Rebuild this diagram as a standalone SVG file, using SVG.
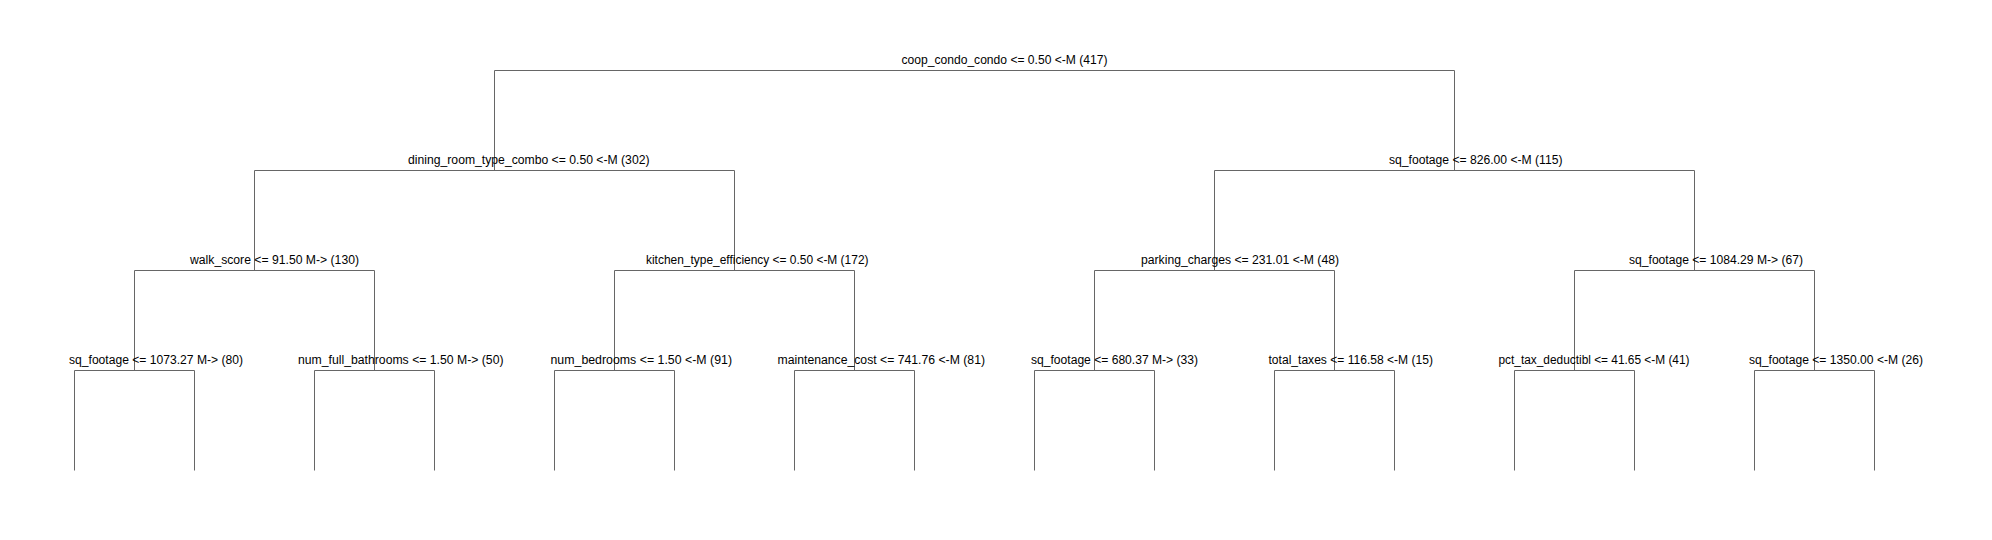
<svg xmlns="http://www.w3.org/2000/svg" width="1992" height="540" viewBox="0 0 1992 540">
<style>
.bg{fill:#ffffff}
.edge{fill:none;stroke:#666666;stroke-width:1}
.lbl{font-family:"Liberation Sans",Arial,sans-serif;font-size:12px;fill:#000000}
</style>
<rect class="bg" x="0" y="0" width="1992" height="540"/>
<g id="connectors">
<path class="edge" d="M494.5,170.5 V70.5 H1454.5 V170.5"/>
<path class="edge" d="M254.5,270.5 V170.5 H734.5 V270.5"/>
<path class="edge" d="M1214.5,270.5 V170.5 H1694.5 V270.5"/>
<path class="edge" d="M134.5,370.5 V270.5 H374.5 V370.5"/>
<path class="edge" d="M614.5,370.5 V270.5 H854.5 V370.5"/>
<path class="edge" d="M1094.5,370.5 V270.5 H1334.5 V370.5"/>
<path class="edge" d="M1574.5,370.5 V270.5 H1814.5 V370.5"/>
<path class="edge" d="M74.5,470.5 V370.5 H194.5 V470.5"/>
<path class="edge" d="M314.5,470.5 V370.5 H434.5 V470.5"/>
<path class="edge" d="M554.5,470.5 V370.5 H674.5 V470.5"/>
<path class="edge" d="M794.5,470.5 V370.5 H914.5 V470.5"/>
<path class="edge" d="M1034.5,470.5 V370.5 H1154.5 V470.5"/>
<path class="edge" d="M1274.5,470.5 V370.5 H1394.5 V470.5"/>
<path class="edge" d="M1514.5,470.5 V370.5 H1634.5 V470.5"/>
<path class="edge" d="M1754.5,470.5 V370.5 H1874.5 V470.5"/>
</g>
<g id="n-root"><text class="lbl" x="901.5" y="63.5" textLength="206" lengthAdjust="spacingAndGlyphs">coop_condo_condo &lt;= 0.50 &lt;-M (417)</text></g>
<g id="n-dining"><text class="lbl" x="408" y="163.5" textLength="241.5" lengthAdjust="spacingAndGlyphs">dining_room_type_combo &lt;= 0.50 &lt;-M (302)</text></g>
<g id="n-sqft826"><text class="lbl" x="1389" y="163.5" textLength="173.5" lengthAdjust="spacingAndGlyphs">sq_footage &lt;= 826.00 &lt;-M (115)</text></g>
<g id="n-walk"><text class="lbl" x="190" y="263.5" textLength="169" lengthAdjust="spacingAndGlyphs">walk_score &lt;= 91.50 M-&gt; (130)</text></g>
<g id="n-kitchen"><text class="lbl" x="646" y="263.5" textLength="222.5" lengthAdjust="spacingAndGlyphs">kitchen_type_efficiency &lt;= 0.50 &lt;-M (172)</text></g>
<g id="n-parking"><text class="lbl" x="1141" y="263.5" textLength="198" lengthAdjust="spacingAndGlyphs">parking_charges &lt;= 231.01 &lt;-M (48)</text></g>
<g id="n-sqft1084"><text class="lbl" x="1629" y="263.5" textLength="174" lengthAdjust="spacingAndGlyphs">sq_footage &lt;= 1084.29 M-&gt; (67)</text></g>
<g id="n-sqft1073"><text class="lbl" x="69" y="363.5" textLength="174" lengthAdjust="spacingAndGlyphs">sq_footage &lt;= 1073.27 M-&gt; (80)</text></g>
<g id="n-bath"><text class="lbl" x="298" y="363.5" textLength="205.5" lengthAdjust="spacingAndGlyphs">num_full_bathrooms &lt;= 1.50 M-&gt; (50)</text></g>
<g id="n-bed"><text class="lbl" x="550.5" y="363.5" textLength="181.5" lengthAdjust="spacingAndGlyphs">num_bedrooms &lt;= 1.50 &lt;-M (91)</text></g>
<g id="n-maint"><text class="lbl" x="777.5" y="363.5" textLength="207.5" lengthAdjust="spacingAndGlyphs">maintenance_cost &lt;= 741.76 &lt;-M (81)</text></g>
<g id="n-sqft680"><text class="lbl" x="1031" y="363.5" textLength="167" lengthAdjust="spacingAndGlyphs">sq_footage &lt;= 680.37 M-&gt; (33)</text></g>
<g id="n-taxes"><text class="lbl" x="1268.5" y="363.5" textLength="164.5" lengthAdjust="spacingAndGlyphs">total_taxes &lt;= 116.58 &lt;-M (15)</text></g>
<g id="n-pct"><text class="lbl" x="1498.5" y="363.5" textLength="191" lengthAdjust="spacingAndGlyphs">pct_tax_deductibl &lt;= 41.65 &lt;-M (41)</text></g>
<g id="n-sqft1350"><text class="lbl" x="1749" y="363.5" textLength="174" lengthAdjust="spacingAndGlyphs">sq_footage &lt;= 1350.00 &lt;-M (26)</text></g>
</svg>
